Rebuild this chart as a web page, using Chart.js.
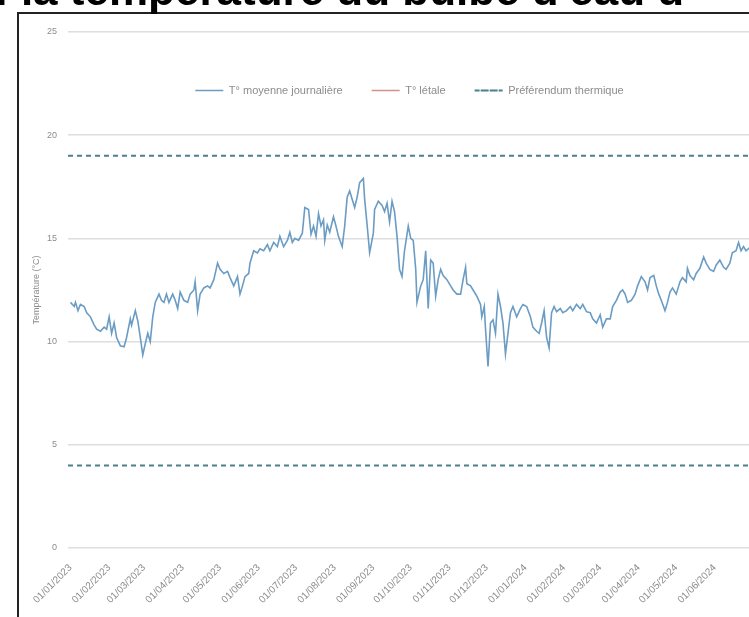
<!DOCTYPE html>
<html lang="fr">
<head>
<meta charset="utf-8">
<title>Température moyenne journalière</title>
<script src="https://cdn.jsdelivr.net/npm/chart.js@4.4.1/dist/chart.umd.min.js"></script>
<style>
  html, body { margin: 0; padding: 0; background: #fff; overflow: hidden; width: 749px; height: 617px; }
  #titre { position: absolute; left: -6px; top: -35px; z-index: 2; white-space: nowrap;
           font: bold 44px "Liberation Sans", Arial, sans-serif; color: #000; }
  #cadre { position: absolute; left: 17px; top: 12px; width: 800px; height: 700px;
           border: 2px solid #222; background: #fff; }
  #wrap { position: absolute; left: 0; top: 0; width: 742px; height: 620px; }
</style>
</head>
<body>
<div id="titre">: la température du bulbe d'eau d</div>
<div id="cadre">
  <div id="wrap"><canvas id="tempChart"></canvas></div>
</div>
<script>
// jours depuis le 01/01/2023
const jours = [
    0, 3, 4, 6, 8, 11, 13, 16, 19, 21,
    24, 27, 29, 31, 33, 35, 37, 40, 43, 45,
    48, 49, 52, 54, 56, 58, 60, 62, 64, 66,
    68, 71, 73, 75, 77, 79, 82, 84, 86, 88,
    91, 94, 96, 99, 100, 102, 104, 107, 110, 112,
    115, 118, 120, 123, 126, 128, 131, 134, 136, 138,
    140, 143, 144, 147, 150, 152, 155, 158, 160, 163,
    166, 168, 171, 174, 176, 178, 180, 183, 186, 188,
    191, 193, 195, 197, 199, 201, 203, 204, 206, 208,
    211, 213, 215, 218, 220, 222, 224, 226, 228, 230,
    232, 235, 236, 238, 240, 243, 244, 247, 250, 252,
    254, 256, 258, 260, 262, 264, 266, 268, 271, 273,
    275, 277, 278, 281, 283, 285, 287, 289, 291, 293,
    295, 297, 299, 302, 305, 307, 310, 313, 315, 317,
    318, 321, 323, 326, 329, 330, 332, 333, 335, 337,
    339, 341, 343, 345, 347, 349, 351, 353, 355, 358,
    361, 363, 366, 369, 371, 374, 376, 378, 380, 382,
    384, 386, 388, 390, 393, 395, 398, 401, 403, 406,
    409, 411, 414, 417, 419, 422, 425, 427, 430, 433,
    435, 438, 441, 443, 445, 447, 450, 453, 455, 458,
    461, 463, 465, 468, 470, 472, 474, 477, 479, 481,
    483, 486, 489, 491, 494, 495, 497, 500, 502, 505,
    508, 510, 513, 516, 518, 521, 524, 526, 529, 531,
    534, 536, 538, 540, 542, 544, 546
];
const tempMoy = [
    11.9, 11.7, 11.9, 11.5, 11.8, 11.7, 11.4, 11.2, 10.8, 10.6,
    10.5, 10.7, 10.6, 11.2, 10.4, 10.9, 10.2, 9.8, 9.75, 10.2,
    11.1, 10.8, 11.5, 11.0, 10.2, 9.35, 9.9, 10.4, 10.0, 11.2,
    11.9, 12.3, 12.0, 11.9, 12.3, 11.9, 12.3, 12.0, 11.6, 12.4,
    12.0, 11.9, 12.3, 12.5, 12.9, 11.5, 12.3, 12.6, 12.7, 12.6,
    13.0, 13.8, 13.5, 13.3, 13.4, 13.1, 12.7, 13.15, 12.3, 12.7,
    13.15, 13.3, 13.8, 14.4, 14.3, 14.5, 14.4, 14.7, 14.4, 14.8,
    14.6, 15.1, 14.6, 14.9, 15.3, 14.8, 15.0, 14.9, 15.25, 16.5,
    16.4, 15.2, 15.6, 15.1, 16.2, 15.6, 15.9, 14.9, 15.65, 15.3,
    16.05, 15.6, 15.1, 14.6, 15.6, 17.0, 17.3, 16.9, 16.5, 17.0,
    17.7, 17.9, 16.9, 15.65, 14.3, 15.25, 16.4, 16.8, 16.6, 16.3,
    16.7, 15.8, 16.8, 16.3, 15.1, 13.5, 13.15, 14.4, 15.6, 15.0,
    14.9, 13.5, 11.9, 12.7, 13.0, 14.4, 11.6, 13.95, 13.8, 12.2,
    13.0, 13.5, 13.2, 13.0, 12.7, 12.5, 12.3, 12.3, 13.0, 13.6,
    12.8, 12.7, 12.5, 12.2, 11.8, 11.2, 11.7, 10.6, 8.8, 10.9,
    11.05, 10.4, 12.3, 11.7, 10.9, 9.4, 10.4, 11.4, 11.7, 11.2,
    11.6, 11.8, 11.7, 11.2, 10.7, 10.5, 10.4, 10.9, 11.5, 10.2,
    9.7, 11.4, 11.7, 11.45, 11.6, 11.4, 11.5, 11.7, 11.5, 11.8,
    11.6, 11.8, 11.45, 11.4, 11.1, 10.9, 11.3, 10.7, 11.1, 11.1,
    11.7, 12.0, 12.4, 12.5, 12.3, 11.9, 12.0, 12.3, 12.7, 13.15,
    12.9, 12.5, 13.1, 13.2, 12.7, 12.3, 12.0, 11.5, 11.9, 12.4,
    12.6, 12.3, 12.9, 13.1, 12.9, 13.55, 13.2, 13.0, 13.3, 13.55,
    14.1, 13.8, 13.5, 13.4, 13.7, 13.95, 13.6, 13.5, 13.8, 14.3,
    14.4, 14.8, 14.4, 14.6, 14.4, 14.5, 14.6
];
const tempLetale = [];   // aucune valeur visible sur le graphique
const prefMax = 19;
const prefMin = 4;
const xDebut = -2;
const xFin = 546;

const moisJours = [0, 31, 59, 90, 120, 151, 181, 212, 243, 273, 304, 334, 365, 396, 425, 456, 486, 517];
const moisLabels = ['01/01/2023', '01/02/2023', '01/03/2023', '01/04/2023', '01/05/2023', '01/06/2023',
    '01/07/2023', '01/08/2023', '01/09/2023', '01/10/2023', '01/11/2023', '01/12/2023',
    '01/01/2024', '01/02/2024', '01/03/2024', '01/04/2024', '01/05/2024', '01/06/2024'];

const gris = '#8c8c8c';
Chart.defaults.font.family = '"Liberation Sans", Arial, sans-serif';

// légende horizontale, dans la zone du graphique, sous la ligne des 25 °C
const decaleLegende = {
    id: 'decaleLegende',
    beforeLayout(chart) {
        chart.legend.isHorizontal = () => true;
    },
    afterLayout(chart) {
        const leg = chart.legend;
        leg.left = chart.chartArea.left;
        leg.right = chart.chartArea.right;
        leg.top += 24;
        leg.bottom += 24;
    }
};

const ctx = document.getElementById('tempChart').getContext('2d');
new Chart(ctx, {
    type: 'line',
    data: {
        datasets: [
            {
                label: 'T° moyenne journalière',
                data: jours.map((j, i) => ({ x: j, y: tempMoy[i] })),
                borderColor: '#6b9cc4',
                backgroundColor: '#6b9cc4',
                borderWidth: 1.6,
                pointRadius: 0
            },
            {
                label: 'T° létale',
                data: tempLetale,
                borderColor: '#d4908b',
                backgroundColor: '#d4908b',
                borderWidth: 1.5,
                pointRadius: 0
            },
            {
                label: 'Préférendum thermique',
                data: [
                    { x: xDebut, y: prefMax }, { x: xFin, y: prefMax }, { x: xFin, y: null },
                    { x: xDebut, y: prefMin }, { x: xFin, y: prefMin }
                ],
                borderColor: '#4d7f8e',
                backgroundColor: '#4d7f8e',
                borderWidth: 2,
                borderDash: [5, 4],
                pointRadius: 0,
                spanGaps: false
            }
        ]
    },
    options: {
        responsive: true,
        maintainAspectRatio: false,
        animation: false,
        layout: { padding: { top: 18, right: 10, bottom: 0, left: 0 } },
        plugins: {
            tooltip: { enabled: false },
            legend: {
                position: 'chartArea',
                labels: {
                    boxWidth: 28,
                    boxHeight: 0,
                    padding: 29,
                    color: gris,
                    font: { size: 11 }
                }
            }
        },
        scales: {
            x: {
                type: 'linear',
                min: xDebut,
                max: xFin,
                afterBuildTicks(scale) {
                    scale.ticks = moisJours.map(v => ({ value: v }));
                },
                afterFit(scale) { scale.height = 86; },
                ticks: {
                    autoSkip: false,
                    minRotation: 45,
                    maxRotation: 45,
                    padding: 6,
                    color: gris,
                    font: { size: 10 },
                    callback(value) {
                        const i = moisJours.indexOf(value);
                        return i >= 0 ? moisLabels[i] : '';
                    }
                },
                grid: { display: false },
                border: { display: false }
            },
            y: {
                min: 0,
                max: 25,
                afterFit(scale) { scale.width = 49; },
                ticks: { stepSize: 5, color: gris, font: { size: 9 }, padding: 11 },
                grid: { color: '#dedede', lineWidth: 1.5, drawTicks: false },
                border: { display: false },
                title: {
                    display: true,
                    text: 'Température (°C)',
                    color: gris,
                    font: { size: 9 },
                    padding: { top: 12, bottom: 0 }
                }
            }
        }
    },
    plugins: [decaleLegende]
});
</script>
</body>
</html>
